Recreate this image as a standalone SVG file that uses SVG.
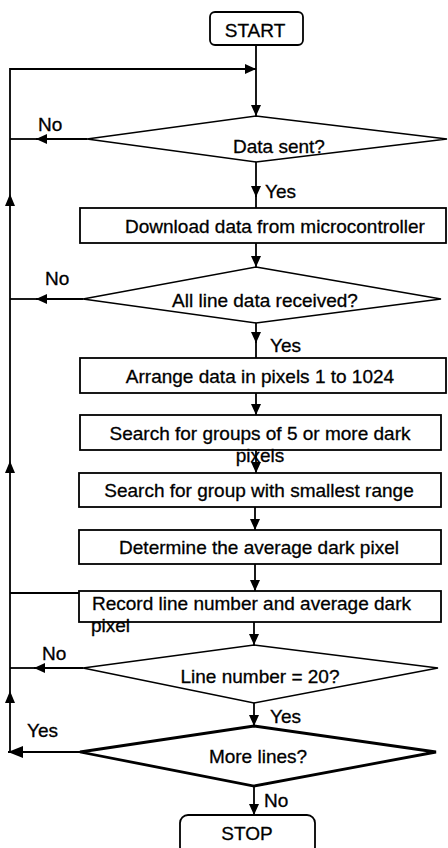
<svg xmlns="http://www.w3.org/2000/svg" width="448" height="848" viewBox="0 0 448 848">
<style>
.box{fill:#fff;stroke:#000;stroke-width:1.8}
.dia{fill:#fff;stroke:#000;stroke-width:1.7}
.thick{stroke-width:2.8}
.ln{fill:none;stroke:#000;stroke-width:1.8}
text{font-family:"Liberation Sans",Arial,sans-serif;font-size:19px;fill:#000;stroke:#000;stroke-width:0.3}
.c{text-anchor:middle}
</style>
<defs>
<marker id="ah" markerUnits="userSpaceOnUse" markerWidth="12" markerHeight="10" refX="11" refY="5" orient="auto">
<path d="M0,0 L11,5 L0,10 Z" fill="#000"/>
</marker>
<marker id="ahb" markerUnits="userSpaceOnUse" markerWidth="16" markerHeight="12" refX="15" refY="6" orient="auto">
<path d="M0,0 L15,6 L0,12 Z" fill="#000"/>
</marker>
</defs>
<g id="connectors">
<path class="ln" d="M256,45 V116" marker-end="url(#ah)"/>
<path class="ln" d="M10,752 V69 H256" marker-end="url(#ah)"/>
<path d="M10,194 L5,206 L15,206 Z"/>
<path d="M10,461 L5,473 L15,473 Z"/>
<path d="M10,691 L5,703 L15,703 Z"/>
<path class="ln" d="M87,139 H36" marker-end="url(#ah)"/>
<path class="ln" d="M38,139 H10"/>
<path class="ln" d="M256,162 V197" marker-end="url(#ah)"/>
<path class="ln" d="M256,195 V208"/>
<path class="ln" d="M256,243 V267" marker-end="url(#ah)"/>
<path class="ln" d="M83,299 H36" marker-end="url(#ah)"/>
<path class="ln" d="M38,299 H10"/>
<path class="ln" d="M256,323 V343" marker-end="url(#ah)"/>
<path class="ln" d="M256,341 V358"/>
<path class="ln" d="M256,393 V415" marker-end="url(#ah)"/>
<path class="ln" d="M256,450 V473" marker-end="url(#ah)"/>
<path class="ln" d="M255,507 V530" marker-end="url(#ah)"/>
<path class="ln" d="M255,564 V591" marker-end="url(#ah)"/>
<path class="ln" d="M10,593 H79"/>
<path class="ln" d="M254,622 V645" marker-end="url(#ah)"/>
<path class="ln" d="M83,668 H34" marker-end="url(#ah)"/>
<path class="ln" d="M36,668 H10"/>
<path class="ln" d="M254,703 V726" marker-end="url(#ah)"/>
<path class="ln" d="M80,752 H8" stroke-width="2.8" marker-end="url(#ahb)"/>
<path class="ln" d="M254,786 V815" marker-end="url(#ah)"/>
<text x="38" y="131">No</text>
<text x="265" y="198">Yes</text>
<text x="45" y="285">No</text>
<text x="270" y="352">Yes</text>
<text x="42" y="660">No</text>
<text x="270" y="723">Yes</text>
<text x="27" y="737">Yes</text>
<text x="264" y="807">No</text>
</g>
<g id="start">
<rect class="box" x="210" y="12" width="93" height="33" rx="5"/>
<text class="c" x="255" y="37">START</text>
</g>
<g id="data-sent">
<polygon class="dia" points="256,116 447,139 256,162 87,139"/>
<text class="c" x="279" y="153">Data sent?</text>
</g>
<g id="download">
<rect class="box" x="80" y="208" width="366" height="35"/>
<text class="c" x="275" y="233">Download data from microcontroller</text>
</g>
<g id="all-line">
<polygon class="dia" points="256,267 441,299 256,323 83,299"/>
<text class="c" x="265" y="307">All line data received?</text>
</g>
<g id="arrange">
<rect class="box" x="80" y="358" width="366" height="35"/>
<text class="c" x="260" y="383">Arrange data in pixels 1 to 1024</text>
</g>
<g id="search-groups">
<rect class="box" x="80" y="415" width="361" height="35"/>
<text class="c" x="260" y="440">Search for groups of 5 or more dark</text>
<text class="c" x="260" y="462">pixels</text>
</g>
<g id="search-range">
<rect class="box" x="79" y="473" width="362" height="34"/>
<text class="c" x="259" y="497">Search for group with smallest range</text>
</g>
<g id="determine">
<rect class="box" x="79" y="530" width="362" height="34"/>
<text class="c" x="259" y="554">Determine the average dark pixel</text>
</g>
<g id="record">
<rect class="box" x="79" y="591" width="362" height="31"/>
<text x="92" y="610">Record line number and average dark</text>
<text x="91" y="632">pixel</text>
</g>
<g id="line-number">
<polygon class="dia" points="254,645 438,668 254,703 83,668"/>
<text class="c" x="260" y="683">Line number = 20?</text>
</g>
<g id="more-lines">
<polygon class="dia thick" points="254,726 436,752 254,786 80,752"/>
<text class="c" x="258" y="763">More lines?</text>
</g>
<g id="stop">
<rect class="box" x="180" y="815" width="135" height="40" rx="8"/>
<text class="c" x="247" y="840">STOP</text>
</g>
</svg>
